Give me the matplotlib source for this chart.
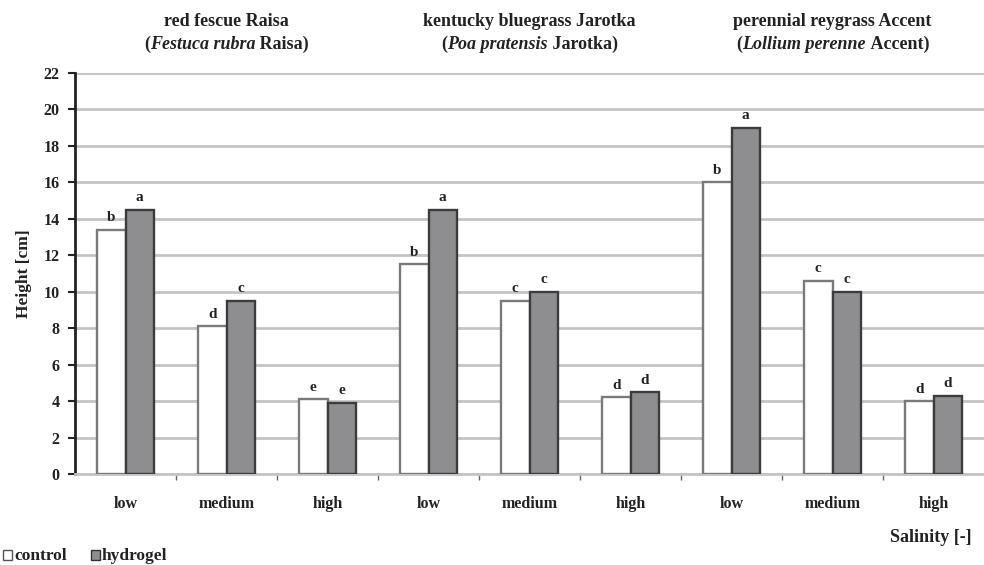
import matplotlib
matplotlib.use("Agg")
import matplotlib.pyplot as plt
from matplotlib.patches import Rectangle
from matplotlib.offsetbox import TextArea, HPacker, AnnotationBbox
import numpy as np

plt.rcParams['font.family'] = ['Liberation Serif', 'DejaVu Serif']
plt.rcParams['font.weight'] = 'bold'

species_titles = [
    ("red fescue Raisa", "Festuca rubra", "Raisa"),
    ("kentucky bluegrass Jarotka", "Poa pratensis", "Jarotka"),
    ("perennial reygrass Accent", "Lollium perenne", "Accent"),
]
salinity = ["low", "medium", "high"] * 3
control = [13.4, 8.1, 4.1, 11.5, 9.5, 4.2, 16.0, 10.6, 4.0]
hydrogel = [14.5, 9.5, 3.9, 14.5, 10.0, 4.5, 19.0, 10.0, 4.3]
control_letters = ["b", "d", "e", "b", "c", "d", "b", "c", "d"]
hydrogel_letters = ["a", "c", "e", "a", "c", "d", "a", "c", "d"]
y_ticks = list(range(0, 23, 2))

TXT = "#222222"

fig = plt.figure(figsize=(9.84, 5.65), dpi=100)
ax = fig.add_axes([75 / 984, 1 - 474 / 565, 1 - 75 / 984, (474 - 73) / 565])

x = np.arange(len(salinity))
w = 0.28
ax.bar(x - w / 2, control, w, color="white", edgecolor="#7a7a7a", linewidth=1.7, zorder=3)
ax.bar(x + w / 2, hydrogel, w, color="#8e8e90", edgecolor="#3c3c3c", linewidth=1.7, zorder=3)

for xi, v, t in zip(x, control, control_letters):
    ax.text(xi - w / 2, v + 0.3, t, ha="center", va="bottom", fontsize=11, fontweight="bold", color=TXT)
for xi, v, t in zip(x, hydrogel, hydrogel_letters):
    ax.text(xi + w / 2, v + 0.3, t, ha="center", va="bottom", fontsize=11, fontweight="bold", color=TXT)

ax.set_xlim(-0.5, len(salinity) - 0.5)
ax.set_ylim(0, 22)
ax.set_yticks(y_ticks)
ax.set_yticklabels([str(t) for t in y_ticks], fontsize=11.5, fontweight="bold", color=TXT)
ax.yaxis.grid(True, color="#c4c4c4", linewidth=2.0, zorder=0)
ax.set_axisbelow(True)

ax.set_xticks(x)
ax.set_xticklabels(salinity, fontsize=11.5, fontweight="bold", color=TXT)
ax.tick_params(axis="x", length=0, pad=16)
ax.set_xticks(np.arange(0.5, len(salinity) - 0.5, 1), minor=True)
ax.tick_params(axis="x", which="minor", length=4, width=1, color="#666666", direction="out")
ax.tick_params(axis="y", length=5, width=1.5, color=TXT, direction="out", pad=6)

for s in ["top", "right"]:
    ax.spines[s].set_visible(False)
ax.spines["left"].set_color(TXT)
ax.spines["left"].set_linewidth(2.0)
ax.spines["bottom"].set_color("#c4c4c4")
ax.spines["bottom"].set_linewidth(2.0)

ax.set_ylabel("Height [cm]", fontsize=12.5, fontweight="bold", color=TXT, labelpad=8)

# species headings above each group of three salinity levels
head = dict(fontsize=13, fontweight="bold", color=TXT)
for i, (common, latin, cultivar) in enumerate(species_titles):
    xc = 3 * i + 1
    ax.text(xc, 1.108, common, transform=ax.get_xaxis_transform(), ha="center", va="bottom", **head)
    parts = HPacker(children=[
        TextArea("(", textprops=head),
        TextArea(latin, textprops=dict(head, fontstyle="italic")),
        TextArea("\u00a0" + cultivar + ")", textprops=head),
    ], align="baseline", pad=0, sep=0)
    ab = AnnotationBbox(parts, (xc, 1.05), xycoords=ax.get_xaxis_transform(),
                        box_alignment=(0.5, 0.0), frameon=False, pad=0, annotation_clip=False)
    ax.add_artist(ab)

fig.text(972 / 984, 1 - 537 / 565, "Salinity [-]", ha="right", va="center",
         fontsize=13, fontweight="bold", color=TXT)

# legend
fig.patches.append(Rectangle((3 / 984, 1 - 560 / 565), 9 / 984, 10 / 565, transform=fig.transFigure,
                             facecolor="white", edgecolor="#555555", linewidth=1))
fig.text(14 / 984, 1 - 556 / 565, "control", ha="left", va="center", fontsize=12.5, fontweight="bold", color=TXT)
fig.patches.append(Rectangle((91 / 984, 1 - 560 / 565), 9 / 984, 10 / 565, transform=fig.transFigure,
                             facecolor="#8e8e90", edgecolor="#333333", linewidth=1))
fig.text(102 / 984, 1 - 556 / 565, "hydrogel", ha="left", va="center", fontsize=12.5, fontweight="bold", color=TXT)

fig.savefig("out.png", dpi=100)
